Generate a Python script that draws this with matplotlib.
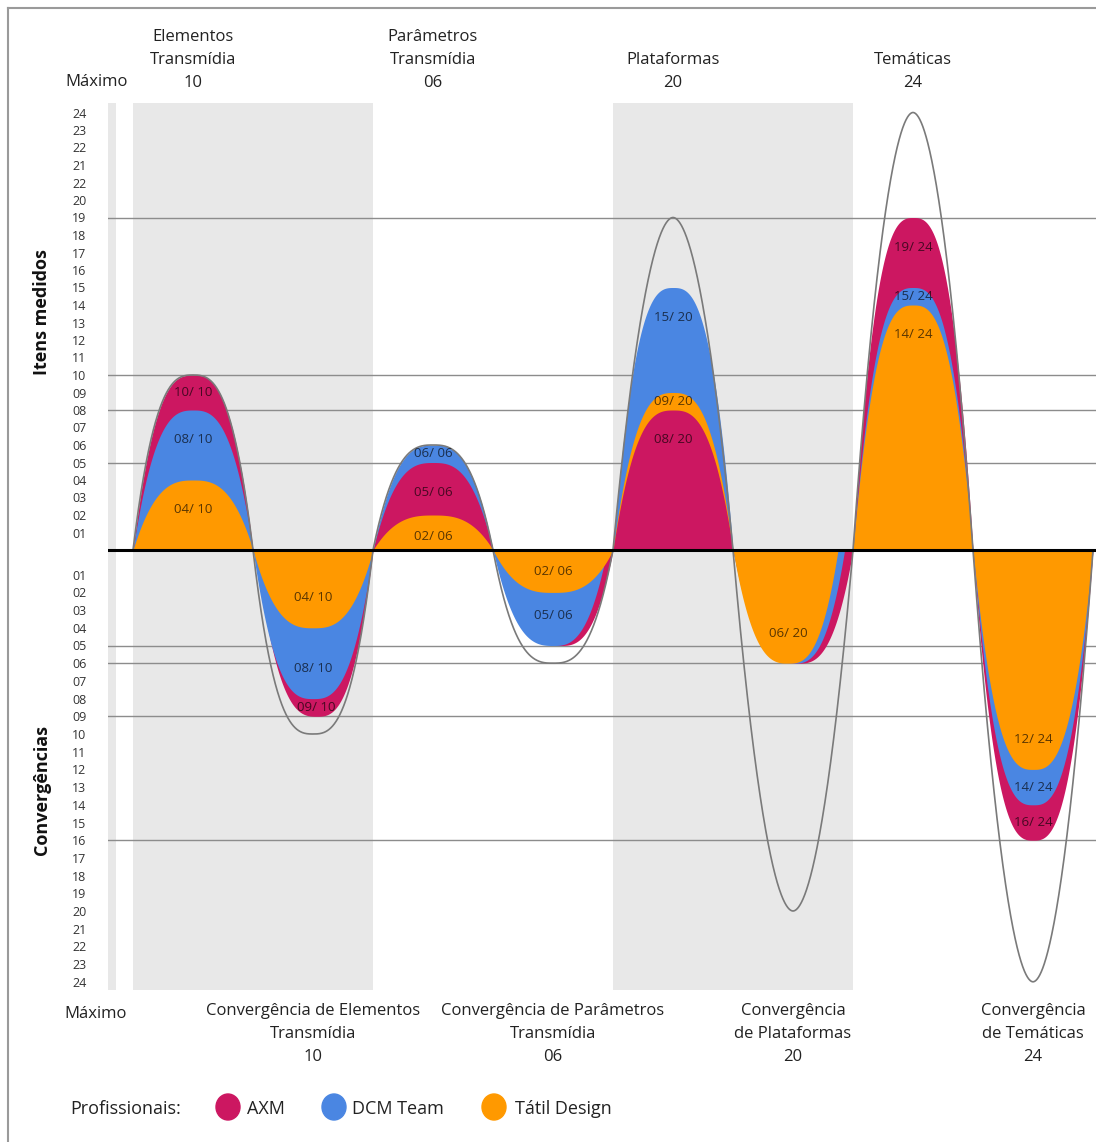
import numpy as np
import matplotlib
matplotlib.use("Agg")
import matplotlib.pyplot as plt
from matplotlib.patches import Ellipse
from matplotlib.lines import Line2D
from matplotlib.transforms import blended_transform_factory

plt.rcParams['font.family'] = ['Open Sans', 'DejaVu Sans']

# ---------------- data ----------------
top_categories = ["Elementos\nTransmídia", "Parâmetros\nTransmídia", "Plataformas", "Temáticas"]
top_maximum = [10, 6, 20, 24]
bottom_categories = ["Convergência de Elementos\nTransmídia",
                     "Convergência de Parâmetros\nTransmídia",
                     "Convergência\nde Plataformas",
                     "Convergência\nde Temáticas"]
bottom_maximum = [10, 6, 20, 24]

series_names = ["AXM", "DCM Team", "Tátil Design"]
axm_items = [10, 5, 8, 19]
dcm_items = [8, 6, 15, 15]
tatil_items = [4, 2, 9, 14]
axm_conv = [9, 5, 6, 16]
dcm_conv = [8, 5, 6, 14]
tatil_conv = [4, 2, 6, 12]

# heights reached by the grey "Máximo" outlines, as drawn
outline_items = [10, 6, 19, 25]
outline_conv = [10, 6, 20, 24]

top_tick_labels = ["01", "02", "03", "04", "05", "06", "07", "08", "09", "10",
                   "11", "12", "13", "14", "15", "16", "17", "18", "19", "20",
                   "22", "21", "22", "23", "24"]
bottom_tick_labels = ["01", "02", "03", "04", "05", "06", "07", "08", "09", "10",
                      "11", "12", "13", "14", "15", "16", "17", "18", "19", "20",
                      "21", "22", "23", "24"]
grid_items = [5, 8, 10, 19]
grid_conv = [5, 6, 9, 16]

# ---------------- style / layout ----------------
colors = {"AXM": "#CC1761", "DCM Team": "#4A86E2", "Tátil Design": "#FF9900"}
shade = "#E8E8E8"
outline_color = "#7a7a7a"
grid_color = "#8c8c8c"

# shape skew (left end, apex, right end as fraction of hump) where drawn asymmetric
skew = {
    (1, "AXM"): (0.02, 0.53, 1.0),
    (3, "AXM"): (0.10, 0.56, 1.0),
    (3, "DCM Team"): (0.0, 0.5, 0.95),
    (5, "Tátil Design"): (0.0, 0.46, 0.875),
    (5, "DCM Team"): (0.0, 0.50, 0.93),
    (5, "AXM"): (0.0, 0.54, 1.0),
}

W, H = 1096, 1142
fig = plt.figure(figsize=(W / 100, H / 100), dpi=100)

def fx(px):
    return px / W

def fy(py):
    return 1 - py / H

# axes geometry in reference pixels
ax_l, ax_r, ax_t, ax_b = 108, 1096, 103, 990
x0_px, seg_px, zero_px, unit_up = 133, 120, 550, 17.5
ax = fig.add_axes([fx(ax_l), fy(ax_b), fx(ax_r) - fx(ax_l), fy(ax_t) - fy(ax_b)])
ax.set_xlim((ax_l - x0_px) / seg_px, (ax_r - x0_px) / seg_px)
ax.set_ylim(-(ax_b - zero_px) / unit_up, (zero_px - ax_t) / unit_up)
for s in ax.spines.values():
    s.set_visible(False)
ax.set_xticks([])

def low(v):
    # lower half uses a slightly different spacing, offset from the zero line
    return -(7 + 17.7 * np.asarray(v, dtype=float)) / unit_up

xmin, xmax = ax.get_xlim()
ymin, ymax = ax.get_ylim()

# background shading
ax.axvspan(xmin, xmin + 8 / seg_px, color=shade, lw=0, zorder=0)
ax.axvspan(0, 2, color=shade, lw=0, zorder=0)
ax.axvspan(4, 6, color=shade, lw=0, zorder=0)

# reference lines
for v in grid_items:
    ax.axhline(v, color=grid_color, lw=1.0, zorder=1)
for v in grid_conv:
    ax.axhline(low(v), color=grid_color, lw=1.0, zorder=1)

def curve(i, L=0.0, A=0.5, R=1.0, p=2.8, q=1.0, n=240):
    xl = np.linspace(L, A, n)
    xr = np.linspace(A, R, n)[1:]
    ul = (xl - A) / (A - L)
    ur = (xr - A) / (R - A)
    u = np.concatenate([ul, ur])
    g = np.clip(1 - np.abs(u) ** p, 0, 1) ** q
    return i + np.concatenate([xl, xr]), g

series_items = {"AXM": axm_items, "DCM Team": dcm_items, "Tátil Design": tatil_items}
series_conv = {"AXM": axm_conv, "DCM Team": dcm_conv, "Tátil Design": tatil_conv}

label_kw = dict(ha="center", va="center", fontsize=9.5, color="black", alpha=0.65, zorder=6)

for k in range(4):
    for up in (True, False):
        i = 2 * k if up else 2 * k + 1
        data = series_items if up else series_conv
        mx = top_maximum[k] if up else bottom_maximum[k]
        vals = [(data[name][k], j, name) for j, name in enumerate(series_names)]
        order = sorted(vals, key=lambda t: (-t[0], t[1]))  # back to front
        apex = {}
        for z, (v, j, name) in enumerate(order):
            L, A, R = skew.get((i, name), (0.0, 0.5, 1.0))
            xs, g = curve(i, L, A, R)
            h = v if up else low(v)
            ax.fill_between(xs, 0, h * g, color=colors[name], lw=0, zorder=2 + z * 0.1)
            apex[name] = i + A
        # labels
        for idx, (v, j, name) in enumerate(order):
            front = order[idx + 1:]
            if any(t[0] == v for t in front):
                continue
            smaller = [t[0] for t in front if t[0] < v]
            if not smaller:
                pos = max(v - 1.7, 0.4 * v)
            else:
                w = max(smaller)
                pos = (v + w) / 2 if v - w <= 2.5 else v - 1.7
            y = pos if up else low(pos)
            ax.text(apex[name], y, f"{v:02d}/ {mx:02d}", **label_kw)
        # outline of the maximum
        Hm = outline_items[k] if up else outline_conv[k]
        t = np.clip((Hm - 10) / 9, 0, 1)
        xs, g = curve(i, p=2.8 - 0.9 * t, q=1.0)
        h = Hm if up else low(Hm)
        ax.plot(xs, h * g, color=outline_color, lw=1.2, zorder=4)

ax.axhline(0, color="black", lw=2.2, zorder=5)

# y ticks
ticks = list(range(1, 26)) + list(low(np.arange(1, 25)))
labels = top_tick_labels + bottom_tick_labels
ax.set_yticks(ticks)
ax.set_yticklabels(labels, fontsize=9, color="#333333")
ax.tick_params(axis="y", length=0, pad=15.5)

# headers
bt = blended_transform_factory(ax.transData, fig.transFigure)
hdr_kw = dict(ha="center", va="center", fontsize=12, color="#222222", transform=bt)
line_gap = 23
for k in range(4):
    cx = 2 * k + 0.5
    lines = top_categories[k].split("\n") + [f"{top_maximum[k]:02d}"]
    for n, txt in enumerate(reversed(lines)):
        ax.text(cx, fy(83 - n * line_gap), txt, **hdr_kw)
    cx = 2 * k + 1.5
    lines = bottom_categories[k].split("\n") + [f"{bottom_maximum[k]:02d}"]
    for n, txt in enumerate(lines):
        ax.text(cx, fy(1011 + n * line_gap), txt, **hdr_kw)

fig.text(fx(97), fy(82), "Máximo", ha="center", va="center", fontsize=12, color="#222222")
fig.text(fx(96), fy(1014), "Máximo", ha="center", va="center", fontsize=12, color="#222222")

# axis titles
fig.text(fx(42), fy(312), "Itens medidos", rotation=90, ha="center", va="center",
         fontsize=13, fontweight="bold", color="#111111")
fig.text(fx(42), fy(790), "Convergências", rotation=90, ha="center", va="center",
         fontsize=13, fontweight="bold", color="#111111")

# legend
fig.text(fx(70), fy(1109), "Profissionais:", ha="left", va="center", fontsize=13, color="#222222")
leg_x = [228, 334, 494]
txt_x = [247, 352, 515]
for name, cx, tx in zip(series_names, leg_x, txt_x):
    fig.add_artist(Ellipse((fx(cx), fy(1107)), 24 / W, 26 / H, color=colors[name],
                           transform=fig.transFigure))
    fig.text(fx(tx), fy(1109), name, ha="left", va="center", fontsize=13, color="#222222")

# frame
fig.add_artist(Line2D([fx(8), fx(8)], [fy(8), 0], color="#9a9a9a", lw=1.5,
                      transform=fig.transFigure))
fig.add_artist(Line2D([fx(8), 1], [fy(8), fy(8)], color="#9a9a9a", lw=1.5,
                      transform=fig.transFigure))

fig.savefig("out.png", dpi=100)
